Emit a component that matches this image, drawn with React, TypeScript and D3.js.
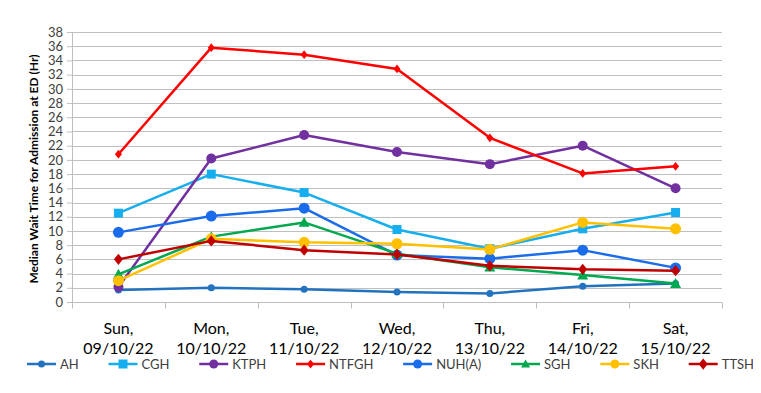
import React, { useEffect, useRef } from "react";
import * as d3 from "d3";

const days = ["Sun,", "Mon,", "Tue,", "Wed,", "Thu,", "Fri,", "Sat,"];
const dates = ["09/10/22", "10/10/22", "11/10/22", "12/10/22", "13/10/22", "14/10/22", "15/10/22"];
const yTicks = d3.range(0, 38 + 1, 2);

const ah = [1.7, 2.0, 1.8, 1.4, 1.2, 2.2, 2.6];
const cgh = [12.5, 18.0, 15.4, 10.2, 7.5, 10.3, 12.6];
const ktph = [2.1, 20.2, 23.5, 21.1, 19.4, 22.0, 16.0];
const ntfgh = [20.8, 35.8, 34.8, 32.8, 23.1, 18.1, 19.1];
const nuha = [9.8, 12.1, 13.2, 6.6, 6.1, 7.3, 4.8];
const sgh = [3.9, 9.2, 11.2, 6.8, 4.9, 3.8, 2.6];
const skh = [3.0, 8.9, 8.4, 8.2, 7.4, 11.2, 10.3];
const ttsh = [6.0, 8.6, 7.3, 6.7, 5.1, 4.6, 4.4];

const series = [
  { name: "AH", values: ah, color: "#2372BE", marker: "circle", size: 3.5 },
  { name: "CGH", values: cgh, color: "#16AEEF", marker: "square", size: 4.5 },
  { name: "KTPH", values: ktph, color: "#7030A0", marker: "circle", size: 5 },
  { name: "NTFGH", values: ntfgh, color: "#FF0000", marker: "diamond", size: 3.5 },
  { name: "NUH(A)", values: nuha, color: "#1B6CEB", marker: "circle", size: 5.5 },
  { name: "SGH", values: sgh, color: "#00A84F", marker: "triangle", size: 5.5 },
  { name: "SKH", values: skh, color: "#FFC000", marker: "circle", size: 5.5 },
  { name: "TTSH", values: ttsh, color: "#C00000", marker: "diamond", size: 4.5 },
];

const FONT = "Lato, 'Open Sans', sans-serif";

const Chart = () => {
  const ref = useRef<SVGSVGElement>(null);

  useEffect(() => {
    if (!ref.current) return;
    const svg = d3.select(ref.current);
    svg.selectAll("*").remove();

    const margin = { top: 32, left: 72, right: 39, bottom: 91 };
    const width = 761;
    const height = 393;
    const innerW = width - margin.left - margin.right;
    const innerH = height - margin.top - margin.bottom;

    const x = d3.scaleBand().domain(dates).range([0, innerW]);
    const y = d3.scaleLinear().domain([0, 38]).range([innerH, 0]);
    const cx = (i: number) => (x(dates[i]) as number) + x.bandwidth() / 2;

    const g = svg.append("g").attr("transform", `translate(${margin.left},${margin.top})`);

    // gridlines
    g.selectAll(".grid")
      .data(yTicks)
      .enter()
      .append("line")
      .attr("x1", 0)
      .attr("x2", innerW)
      .attr("y1", (d) => Math.round(y(d)) + 0.5)
      .attr("y2", (d) => Math.round(y(d)) + 0.5)
      .attr("stroke", "#BFBFBF")
      .attr("stroke-width", 1);

    // y axis
    const yAxis = g.append("g").call(d3.axisLeft(y).tickValues(yTicks).tickSize(5).tickPadding(4));
    yAxis.select(".domain").attr("stroke", "#BFBFBF");
    yAxis.selectAll(".tick line").attr("stroke", "#BFBFBF");
    yAxis.selectAll("text").attr("font-family", FONT).attr("font-size", 13).attr("fill", "#404040");

    // x axis line and boundary ticks
    const xAxis = g.append("g").attr("transform", `translate(0,${Math.round(innerH) + 0.5})`);
    xAxis.append("line").attr("x1", 0).attr("x2", innerW).attr("stroke", "#BFBFBF");
    xAxis
      .selectAll(".bt")
      .data(d3.range(dates.length + 1))
      .enter()
      .append("line")
      .attr("x1", (i) => Math.round(i * x.bandwidth()) + 0.5)
      .attr("x2", (i) => Math.round(i * x.bandwidth()) + 0.5)
      .attr("y1", 0)
      .attr("y2", 6)
      .attr("stroke", "#BFBFBF");
    [days, dates].forEach((row, r) => {
      xAxis
        .selectAll(null)
        .data(row)
        .enter()
        .append("text")
        .attr("x", (_, i) => cx(i))
        .attr("y", r === 0 ? 31 : 51)
        .attr("text-anchor", "middle")
        .attr("font-family", FONT)
        .attr("font-size", 16)
        .attr("fill", "#000")
        .text((d) => d);
    });

    // y title
    svg
      .append("text")
      .attr("transform", `translate(38,${margin.top + innerH / 2 + 2}) rotate(-90)`)
      .attr("text-anchor", "middle")
      .attr("font-family", FONT)
      .attr("font-weight", "bold")
      .attr("font-size", 12)
      .attr("fill", "#000")
      .text("Median Wait Time for Admission at ED (Hr)");

    const markerPath = (type: string, s: number) => {
      if (type === "square") return `M${-s},${-s}H${s}V${s}H${-s}Z`;
      if (type === "diamond") return `M0,${-s * 1.25}L${s},0L0,${s * 1.25}L${-s},0Z`;
      if (type === "triangle") return `M0,${-s}L${s},${s * 0.8}L${-s},${s * 0.8}Z`;
      return d3.symbol(d3.symbolCircle, Math.PI * s * s)() as string;
    };

    const line = d3
      .line<number>()
      .x((_, i) => cx(i))
      .y((d) => y(d));

    series.forEach((s) => {
      g.append("path")
        .attr("d", line(s.values))
        .attr("fill", "none")
        .attr("stroke", s.color)
        .attr("stroke-width", 2.5)
        .attr("stroke-linejoin", "round");
      g.selectAll(null)
        .data(s.values)
        .enter()
        .append("path")
        .attr("transform", (d, i) => `translate(${cx(i)},${y(d)})`)
        .attr("d", markerPath(s.marker, s.size))
        .attr("fill", s.color);
    });

    // legend: spread entries between x=27 and x=754
    const leg = svg.append("g").attr("transform", "translate(27,364)");
    const items = series.map((s) => {
      const item = leg.append("g");
      item.append("line").attr("x1", 0).attr("x2", 29).attr("stroke", s.color).attr("stroke-width", 2.5);
      item
        .append("path")
        .attr("transform", "translate(14.5,0)")
        .attr("d", markerPath(s.marker, Math.min(s.size, 4.5)))
        .attr("fill", s.color);
      const t = item
        .append("text")
        .attr("x", 33)
        .attr("y", 4.5)
        .attr("font-family", FONT)
        .attr("font-size", 13)
        .attr("fill", "#404040")
        .text(s.name);
      return { item, w: 33 + (t.node() as SVGTextElement).getComputedTextLength() };
    });
    const total = d3.sum(items, (d) => d.w);
    const gap = (754 - 27 - total) / (items.length - 1);
    let lx = 0;
    items.forEach((d) => {
      d.item.attr("transform", `translate(${lx},0)`);
      lx += d.w + gap;
    });
  }, []);

  return <svg ref={ref} width={761} height={393} style={{ display: "block" }} />;
};

export default function App() {
  return (
    <div style={{ margin: -8 }}>
      <Chart />
    </div>
  );
}
